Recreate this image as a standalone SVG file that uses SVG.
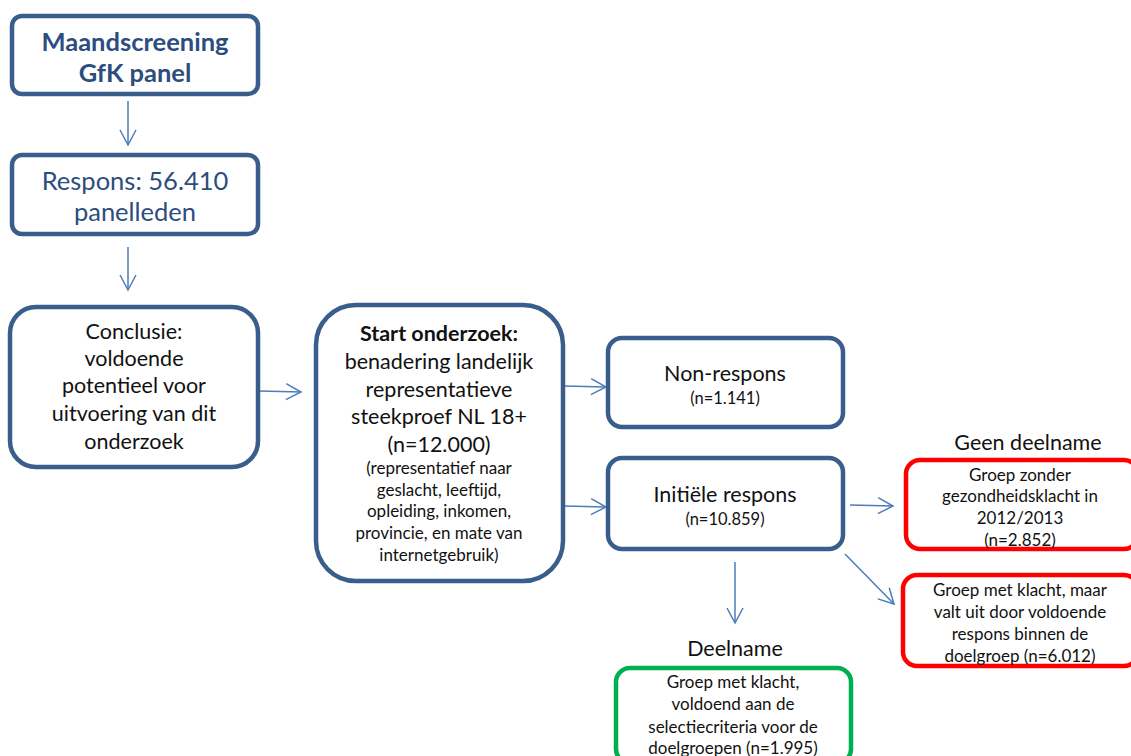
<svg xmlns="http://www.w3.org/2000/svg" width="1131" height="756" viewBox="0 0 1131 756">
<defs>
<style>
.bx{fill:#fff;stroke:#3A5E8C;stroke-width:4.5}
.rd{fill:#fff;stroke:#FF0000;stroke-width:4.5}
.gr{fill:#fff;stroke:#00B050;stroke-width:4.5}
.cn{fill:none;stroke:#4A7EBB;stroke-width:1.5}
text{font-family:Lato,"Open Sans","Liberation Sans",sans-serif;text-anchor:middle;fill:#111}
.t1{font-size:25.5px;fill:#2C4D7E}
.b{font-weight:bold}
.m{font-size:21.5px}
.s{font-size:17px}
.xs{font-size:16.5px}
</style>
<marker id="ah" markerUnits="userSpaceOnUse" markerWidth="18" markerHeight="18" viewBox="0 0 18 18" refX="16" refY="9" orient="auto">
<path d="M1,1 L16,9 L1,17" fill="none" stroke="#4A7EBB" stroke-width="1.5"/>
</marker>
</defs>
<rect width="1131" height="756" fill="#fff"/>
<g id="connectors">
<line class="cn" x1="128" y1="101" x2="128" y2="145" marker-end="url(#ah)"/>
<line class="cn" x1="128" y1="247" x2="128" y2="290" marker-end="url(#ah)"/>
<line class="cn" x1="259" y1="391" x2="301" y2="392" marker-end="url(#ah)"/>
<line class="cn" x1="564" y1="386" x2="606" y2="387" marker-end="url(#ah)"/>
<line class="cn" x1="564" y1="506" x2="606" y2="507" marker-end="url(#ah)"/>
<line class="cn" x1="850" y1="505" x2="893" y2="506" marker-end="url(#ah)"/>
<line class="cn" x1="845" y1="554" x2="894" y2="604" marker-end="url(#ah)"/>
<line class="cn" x1="735" y1="562" x2="735" y2="623" marker-end="url(#ah)"/>
</g>
<g id="maandscreening">
<rect class="bx" x="12" y="16" width="246" height="78" rx="10"/>
<text class="t1 b" x="135" y="51">Maandscreening</text>
<text class="t1 b" x="135" y="82">GfK panel</text>
</g>
<g id="respons">
<rect class="bx" x="12" y="155" width="246" height="79" rx="10"/>
<text class="t1" x="135" y="190">Respons: 56.410</text>
<text class="t1" x="135" y="221">panelleden</text>
</g>
<g id="conclusie">
<rect class="bx" x="10" y="307" width="248" height="160" rx="26"/>
<text class="m" x="134" y="339">Conclusie:</text>
<text class="m" x="134" y="366">voldoende</text>
<text class="m" x="134" y="393">potentieel voor</text>
<text class="m" x="134" y="421">uitvoering van dit</text>
<text class="m" x="134" y="449">onderzoek</text>
</g>
<g id="start">
<rect class="bx" x="316" y="305" width="247" height="276" rx="40"/>
<text class="m b" x="439" y="341">Start onderzoek:</text>
<text class="m" x="439" y="369">benadering landelijk</text>
<text class="m" x="439" y="397">representatieve</text>
<text class="m" x="439" y="424">steekproef NL 18+</text>
<text class="m" x="439" y="452">(n=12.000)</text>
<text class="s" x="439" y="474">(representatief naar</text>
<text class="s" x="439" y="496">geslacht, leeftijd,</text>
<text class="s" x="439" y="517">opleiding, inkomen,</text>
<text class="s" x="439" y="539">provincie, en mate van</text>
<text class="s" x="439" y="561">internetgebruik)</text>
</g>
<g id="nonrespons">
<rect class="bx" x="608" y="338" width="235" height="89" rx="14"/>
<text class="m" x="725" y="381">Non-respons</text>
<text class="xs" x="725" y="404">(n=1.141)</text>
</g>
<g id="initiele">
<rect class="bx" x="608" y="458" width="235" height="91" rx="14"/>
<text class="m" x="725" y="502">Initiële respons</text>
<text class="xs" x="725" y="525">(n=10.859)</text>
</g>
<g id="geen-deelname-label">
<text class="m" x="1028" y="450">Geen deelname</text>
</g>
<g id="zonder-klacht">
<rect class="rd" x="906" y="460" width="232" height="89" rx="14"/>
<text class="s" x="1020" y="481">Groep zonder</text>
<text class="s" x="1020" y="502">gezondheidsklacht in</text>
<text class="s" x="1020" y="524">2012/2013</text>
<text class="s" x="1020" y="546">(n=2.852)</text>
</g>
<g id="klacht-valt-uit">
<rect class="rd" x="903" y="575" width="235" height="91" rx="14"/>
<text class="s" x="1020" y="596">Groep met klacht, maar</text>
<text class="s" x="1020" y="618">valt uit door voldoende</text>
<text class="s" x="1020" y="640">respons binnen de</text>
<text class="s" x="1020" y="662">doelgroep (n=6.012)</text>
</g>
<g id="deelname-label">
<text class="m" x="735" y="656">Deelname</text>
</g>
<g id="deelname">
<rect class="gr" x="616" y="668" width="235" height="95" rx="14"/>
<text class="s" x="733" y="688">Groep met klacht,</text>
<text class="s" x="733" y="710">voldoend aan de</text>
<text class="s" x="733" y="733">selectiecriteria voor de</text>
<text class="s" x="733" y="754">doelgroepen (n=1.995)</text>
</g>
</svg>
